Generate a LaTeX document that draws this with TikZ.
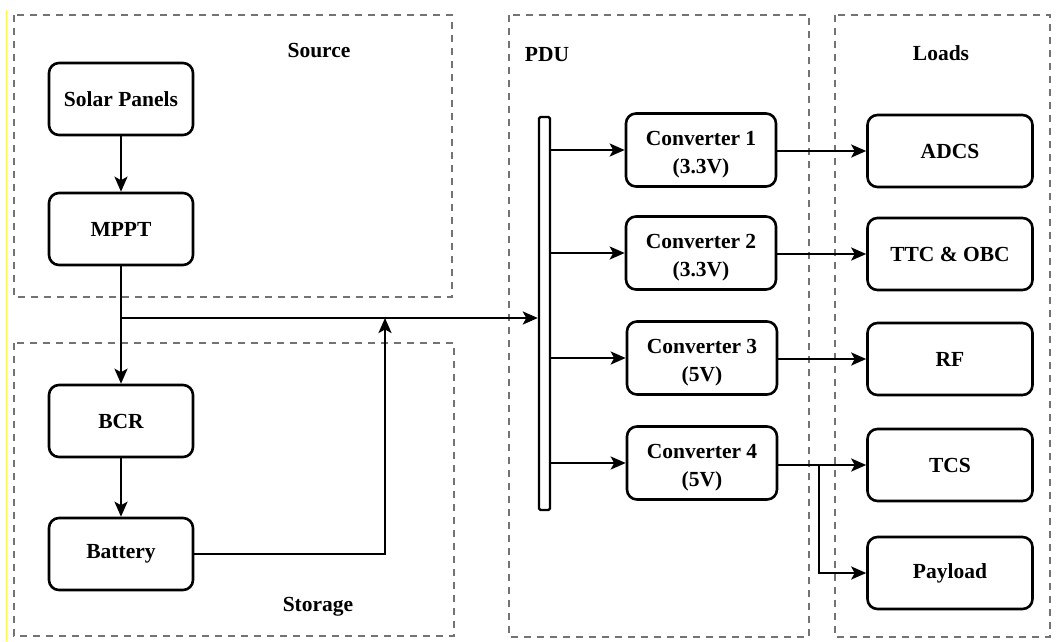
\documentclass[tikz,border=0pt]{standalone}
\usepackage{fontspec}
\setmainfont{Liberation Serif}
\usetikzlibrary{arrows.meta}
\begin{document}
\begin{tikzpicture}[x=1pt,y=-1pt,
  block/.style={draw, line width=2.6pt, rounded corners=10pt, minimum width=144pt,
    minimum height=72pt, inner sep=0pt, align=center,
    font=\fontsize{21.5}{28}\selectfont\bfseries},
  conv/.style={block, minimum width=150pt, minimum height=73pt},
  load/.style={block, minimum width=165pt, minimum height=72pt},
  group/.style={draw=black!55, line width=2.2pt, dash pattern=on 7pt off 6pt},
  title/.style={font=\fontsize{21.5}{24}\selectfont\bfseries, inner sep=0pt},
  link/.style={line width=2.4pt, -{Stealth[length=15pt,width=13pt,inset=3.5pt]}},
]
\useasboundingbox (0,0) rectangle (1059,641);
\draw[yellow!70, line width=0.8pt] (6.5,10) -- (6.5,641);

% dashed groups
\draw[group] (14,15) rectangle (452,297);
\draw[group] (14,343) rectangle (454,636);
\draw[group] (509,15) rectangle (809,637);
\draw[group] (835,15) rectangle (1050,637);

\node[title] (tsrc) at (319,51) {Source};
\node[title] (tsto) at (318,607) {Storage};
\node[title] (tpdu) at (547,55) {PDU};
\node[title] (tld)  at (941,53) {Loads};

% source and storage
\node[block] (sol) at (121,99)  {Solar Panels};
\node[block] (mppt) at (121,229) {MPPT};
\node[block] (bcr) at (121,421) {BCR};
\node[block] (bat) at (121,554) {Battery};

% distribution bus
\node[draw, line width=2.4pt, fill=white, minimum width=11pt, minimum height=393pt,
  inner sep=0pt, rounded corners=1.5pt] (bus) at (544.5,313.5) {};

% converters (text lowered slightly inside the box)
\node[conv] (c1) at (701,150) {\rule{0pt}{24pt}Converter 1\\(3.3V)};
\node[conv] (c2) at (701,253) {\rule{0pt}{24pt}Converter 2\\(3.3V)};
\node[conv] (c3) at (702,358) {\rule{0pt}{24pt}Converter 3\\(5V)};
\node[conv] (c4) at (702,463) {\rule{0pt}{24pt}Converter 4\\(5V)};

% loads
\node[load] (adcs) at (950,151) {ADCS};
\node[load] (ttc)  at (950,254) {TTC \& OBC};
\node[load] (rf)   at (950,359) {RF};
\node[load] (tcs)  at (950,465) {TCS};
\node[load] (pay)  at (950,573) {Payload};

\coordinate (j1) at (121,318);
\coordinate (j2) at (385,318);
\coordinate (j3) at (819,465);

\draw[link] (sol) -- (mppt);
\draw[link] (mppt) -- (bcr);
\draw[link] (bcr) -- (bat);
\draw[link] (j1) -- (bus.west |- j1);
\draw[link] (bat.east) -| (j2);

\draw[link] (bus.east |- c1) -- (c1);
\draw[link] (bus.east |- c2) -- (c2);
\draw[link] (bus.east |- c3) -- (c3);
\draw[link] (bus.east |- c4) -- (c4);

\draw[link] (c1.east |- adcs) -- (adcs);
\draw[link] (c2.east |- ttc) -- (ttc);
\draw[link] (c3.east |- rf) -- (rf);
\draw[link] (c4.east |- tcs) -- (tcs);
\draw[link] (j3) |- (pay);
\end{tikzpicture}
\end{document}
